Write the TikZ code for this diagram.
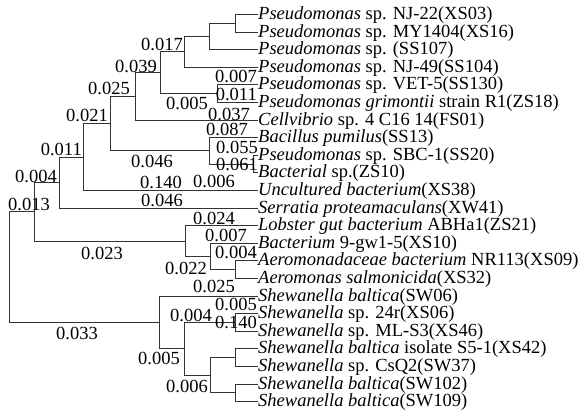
\documentclass[tikz,border=0pt]{standalone}
\usepackage{fontspec}
\setmainfont{Liberation Serif}

\begin{document}
\begin{tikzpicture}[
    x=1pt, y=-1pt,
    font=\fontsize{18.5}{20}\selectfont,
    daun/.style={anchor=west, inner sep=0pt, text height=13pt, text depth=3pt},
    nilai/.style={anchor=base east, inner sep=0pt},
    cabang/.style={draw=black!80, line width=0.8pt}
  ]
    \useasboundingbox (0,2.5) rectangle (581,413.5);
    % daun (taxa)
    \foreach \i/\t in {
        1/{\textit{Pseudomonas} sp. NJ-22(XS03)},
        2/{\textit{Pseudomonas} sp. MY1404(XS16)},
        3/{\textit{Pseudomonas} sp. (SS107)},
        4/{\textit{Pseudomonas} sp. NJ-49(SS104)},
        5/{\textit{Pseudomonas} sp. VET-5(SS130)},
        6/{\textit{Pseudomonas grimontii} strain R1(ZS18)},
        7/{\textit{Cellvibrio} sp. 4 C16 14(FS01)},
        8/{\textit{Bacillus pumilus}(SS13)},
        9/{\textit{Pseudomonas} sp. SBC-1(SS20)},
        10/{\textit{Bacterial} sp.(ZS10)},
        11/{\textit{Uncultured bacterium}(XS38)},
        12/{\textit{Serratia proteamaculans}(XW41)},
        13/{\textit{Lobster gut bacterium} ABHa1(ZS21)},
        14/{\textit{Bacterium} 9-gw1-5(XS10)},
        15/{\textit{Aeromonadaceae bacterium} NR113(XS09)},
        16/{\textit{Aeromonas salmonicida}(XS32)},
        17/{\textit{Shewanella baltica}(SW06)},
        18/{\textit{Shewanella} sp. 24r(XS06)},
        19/{\textit{Shewanella} sp. ML-S3(XS46)},
        20/{\textit{Shewanella baltica} isolate S5-1(XS42)},
        21/{\textit{Shewanella} sp. CsQ2(SW37)},
        22/{\textit{Shewanella baltica}(SW102)},
        23/{\textit{Shewanella baltica}(SW109)}} {
      \pgfmathsetmacro{\y}{17 + (\i-1)*17.6}
      \node[daun] (d\i) at (258,\y) {\t};
    }
    % simpul dalam
    \coordinate (n12)   at (235,25.8);
    \coordinate (n123)  at (209,39);
    \coordinate (n1234) at (184,54.4);
    \coordinate (n56)   at (217,96.2);
    \coordinate (n16)   at (160,75.3);
    \coordinate (n17)   at (135,99);
    \coordinate (n910)  at (253,166.6);
    \coordinate (n810)  at (209,153.4);
    \coordinate (n110)  at (110,126.2);
    \coordinate (n111)  at (83,159.6);
    \coordinate (n112)  at (59,185.1);
    \coordinate (n1516) at (235,272.2);
    \coordinate (n1416) at (210,259);
    \coordinate (n1316) at (185,243.6);
    \coordinate (n116)  at (34,214.4);
    \coordinate (n1819) at (235,325);
    \coordinate (n2021) at (235,360.2);
    \coordinate (n2223) at (235,395.4);
    \coordinate (n2023) at (210,377.8);
    \coordinate (n1823) at (184,351.4);
    \coordinate (n1723) at (159,325);
    \coordinate (akar)  at (9,269.7);
    % cabang
    \foreach \p/\c in {n12/d1.west, n12/d2.west, n123/n12, n123/d3.west,
        n1234/n123, n1234/d4.west, n56/d5.west, n56/d6.west,
        n16/n1234, n16/n56, n17/n16, n17/d7.west,
        n910/d9.west, n910/d10.west, n810/d8.west, n810/n910,
        n110/n17, n110/n810, n111/n110, n111/d11.west,
        n112/n111, n112/d12.west,
        n1516/d15.west, n1516/d16.west, n1416/d14.west, n1416/n1516,
        n1316/d13.west, n1316/n1416, n116/n112, n116/n1316,
        n1819/d18.west, n1819/d19.west, n2021/d20.west, n2021/d21.west,
        n2223/d22.west, n2223/d23.west, n2023/n2021, n2023/n2223,
        n1823/n1819, n1823/n2023, n1723/d17.west, n1723/n1823,
        akar/n116, akar/n1723}
      \draw[cabang] (\p) |- (\c);
    % panjang cabang
    \foreach \n/\x/\y/\t in {1/183/53/0.017, 2/157/75/0.039, 3/130/97/0.025,
        4/108/124/0.021, 5/257/85/0.007, 6/257/103/0.011, 7/208/112/0.005,
        8/250/123/0.037, 9/248/138/0.087, 10/258/156/0.055, 11/258/173/0.061,
        12/173/170/0.046, 13/182/191/0.140, 14/235/190/0.006, 15/82/158/0.011,
        16/57/185/0.004, 17/50/213/0.013, 18/183/209/0.046, 19/235/227/0.024,
        20/247/244/0.007, 21/257/261/0.004, 22/123/262/0.023, 23/207/277/0.022,
        24/235/295/0.025, 25/257/313/0.005, 26/257/331/0.140, 27/212/324/0.004,
        28/98/342/0.033, 29/180/367/0.005, 30/208/395/0.006}
      \node[nilai] (v\n) at (\x,\y) {\t};
\end{tikzpicture}
\end{document}
